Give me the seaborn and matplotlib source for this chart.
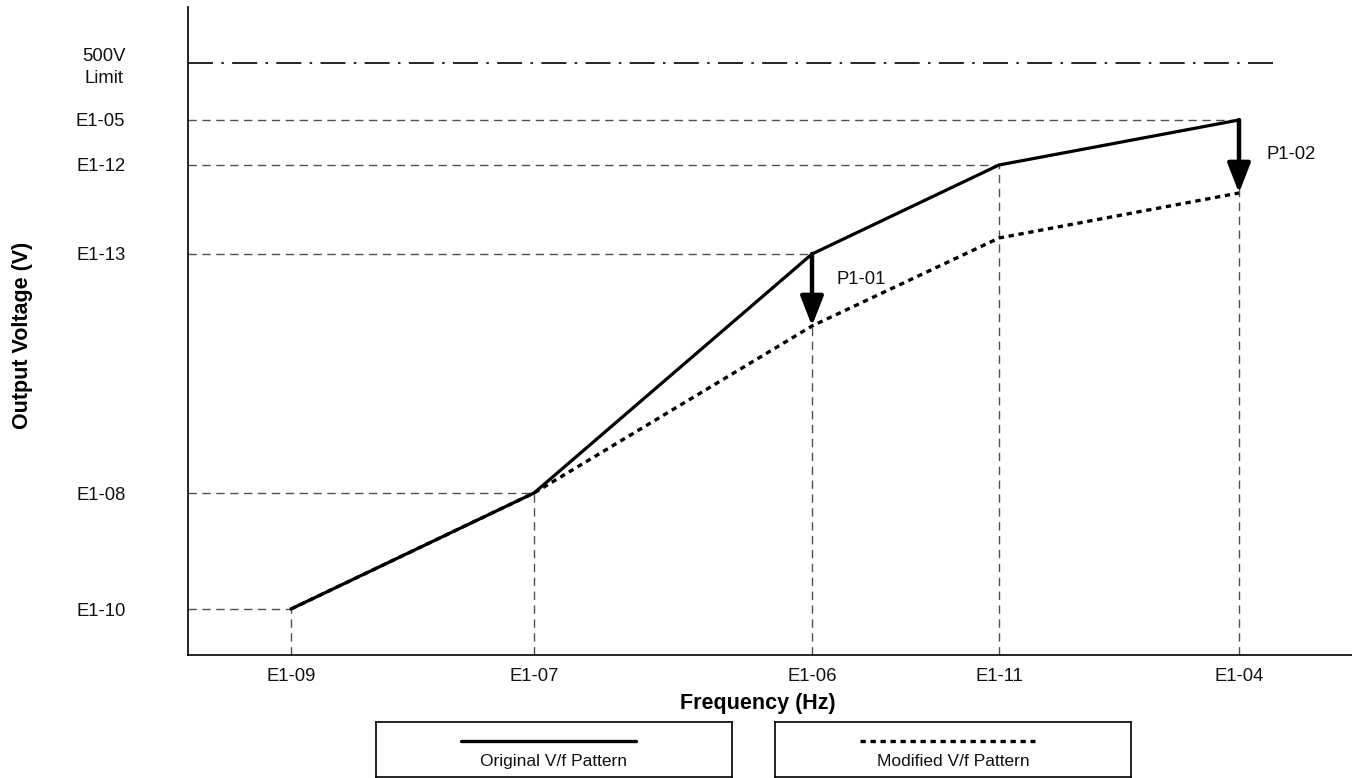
import numpy as np
import pandas as pd
import matplotlib
matplotlib.use("Agg")
import matplotlib.pyplot as plt
import seaborn as sns

# ---- data (arbitrary units) ----
freq_labels = ["E1-09", "E1-07", "E1-06", "E1-11", "E1-04"]
freq_values = [103, 346, 624, 811, 1051]
original_v = [46, 162, 401, 490, 535]
modified_v = [46, 162, 329, 417, 462]
volt_labels = ["E1-10", "E1-08", "E1-13", "E1-12", "E1-05", "500V\nLimit"]
volt_values = [46, 162, 401, 490, 535, 592]
limit_v = 592
limit_end = 1092
arrow_labels = ["P1-01", "P1-02"]
arrow_freq = [624, 1051]
arrow_from = [401, 535]
arrow_to = [329, 462]
arrow_text_pos = [(649, 375), (1079, 500)]
legend_labels = ["Original V/f Pattern", "Modified V/f Pattern"]

sns.set_theme(style="white")
plt.rcParams["font.family"] = ["Liberation Sans", "DejaVu Sans"]

W, H = 1352, 778
fig = plt.figure(figsize=(W / 100, H / 100), dpi=100)
ax = fig.add_axes([188 / W, (778 - 655) / H, (W - 188) / W, (655 - 7) / H])

ax.set_xlim(0, W - 188)
ax.set_ylim(0, 648)

gray = "#505050"
dash = (0, (6, 4))
# reference lines
for f, v in zip(freq_values, original_v):
    ax.plot([0, f], [v, v], color=gray, lw=1.0, linestyle=dash, zorder=1)
    ax.plot([f, f], [0, v], color=gray, lw=1.0, linestyle=dash, zorder=1)

# limit line
ax.plot([0, limit_end], [limit_v, limit_v], color="black", lw=1.2,
        linestyle=(0, (15, 5, 1.5, 5)), zorder=1)

df = pd.DataFrame({"freq": freq_values, "orig": original_v, "mod": modified_v})
sns.lineplot(data=df, x="freq", y="mod", ax=ax, color="black", lw=2.4,
             linestyle=(0, (1.6, 1.4)), legend=False, zorder=2)
sns.lineplot(data=df, x="freq", y="orig", ax=ax, color="black", lw=2.3,
             legend=False, zorder=3)

# arrows
for lab, f, y0, y1, (tx, ty) in zip(arrow_labels, arrow_freq, arrow_from, arrow_to, arrow_text_pos):
    ax.annotate("", xy=(f, y1), xytext=(f, y0),
                arrowprops=dict(arrowstyle="-|>,head_length=0.9,head_width=0.35",
                                lw=3.2, color="black", shrinkA=0, shrinkB=0,
                                mutation_scale=20), zorder=4)
    ax.text(tx, ty, lab, ha="left", va="center", fontsize=13.3, color="#111111")

# axes styling
for s in ["top", "right"]:
    ax.spines[s].set_visible(False)
for s in ["left", "bottom"]:
    ax.spines[s].set_color("black")
    ax.spines[s].set_linewidth(1.2)

ax.set_xticks(freq_values)
ax.set_xticklabels(freq_labels, fontsize=13.3, color="#111111")
ax.set_yticks(volt_values)
ax.set_yticklabels(volt_labels, fontsize=13.3, color="#111111",
                   multialignment="center", linespacing=1.4)
ax.tick_params(axis="x", length=0, pad=9.5)
ax.tick_params(axis="y", length=0, pad=45)

ax.set_xlabel("Frequency (Hz)", fontsize=15.5, fontweight="bold", color="black")
ax.set_ylabel("Output Voltage (V)", fontsize=15.5, fontweight="bold", color="black")
ax.xaxis.set_label_coords((758 - 188) / (W - 188), -38 / 648)
ax.yaxis.set_label_coords(-155 / (W - 188), (655 - 335) / 648)

# legend boxes
box_lefts = [376, 775]
box_w = 356
box_top, box_bot = 722, 776.5
styles = ["-", (0, (1.6, 1.4))]
for left, lab, ls in zip(box_lefts, legend_labels, styles):
    bax = fig.add_axes([left / W, (778 - box_bot) / H, box_w / W, (box_bot - box_top) / H])
    bax.set_xlim(0, 1)
    bax.set_ylim(0, 1)
    bax.set_xticks([])
    bax.set_yticks([])
    for s in bax.spines.values():
        s.set_visible(True)
        s.set_color("black")
        s.set_linewidth(1.2)
    bax.plot([0.24, 0.73], [0.65, 0.65], color="black", lw=2.4, linestyle=ls)
    bax.text(0.5, 0.27, lab, ha="center", va="center", fontsize=12.5, color="#111111")

fig.savefig("out.png", dpi=100)
